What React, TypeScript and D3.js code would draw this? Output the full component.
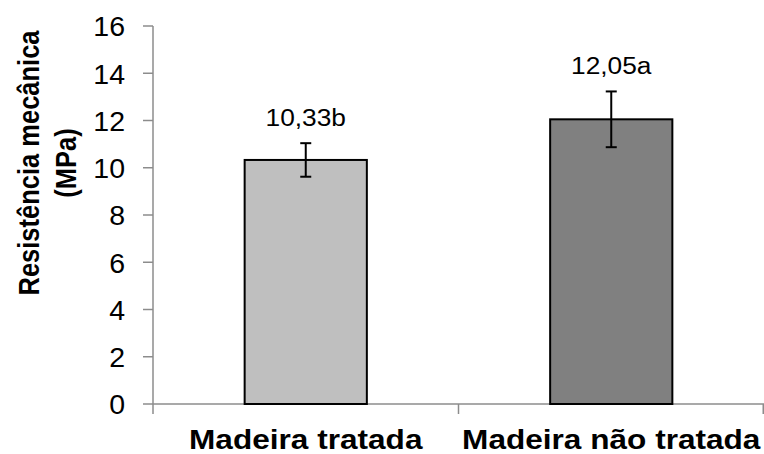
import React, { useEffect, useRef } from "react";
import * as d3 from "d3";

const categories = ["Madeira tratada", "Madeira não tratada"];
const means = [10.33, 12.05];
const errors = [0.71, 1.18];
const valueLabels = ["10,33b", "12,05a"];
const barColors = ["#BFBFBF", "#808080"];
const yTicks = [0, 2, 4, 6, 8, 10, 12, 14, 16];
const yTitleLines = ["Resistência mecânica", "(MPa)"];

const W = 764;
const H = 454;
const FONT = "Arial, 'Liberation Sans', sans-serif";

export default function App() {
  const ref = useRef<SVGSVGElement | null>(null);

  useEffect(() => {
    const svg = d3.select(ref.current);
    svg.selectAll("*").remove();

    const left = 153;
    const right = 764;
    const top = 26;
    const bottom = 404;

    const x = d3
      .scaleBand<string>()
      .domain(categories)
      .range([left, right])
      .paddingInner(0.6)
      .paddingOuter(0.3);
    const step = x.step();
    const y = d3.scaleLinear().domain([0, 16]).range([bottom, top]);

    const axisColor = "#8C8C8C";

    // y axis line and ticks
    svg
      .append("line")
      .attr("x1", left)
      .attr("x2", left)
      .attr("y1", y(16))
      .attr("y2", bottom)
      .attr("stroke", axisColor)
      .attr("stroke-width", 1.5);
    svg
      .selectAll(".ytick")
      .data(yTicks)
      .enter()
      .append("line")
      .attr("x1", left - 10)
      .attr("x2", left)
      .attr("y1", (d) => y(d))
      .attr("y2", (d) => y(d))
      .attr("stroke", axisColor)
      .attr("stroke-width", 1.5);
    svg
      .selectAll(".ylabel")
      .data(yTicks)
      .enter()
      .append("text")
      .attr("x", 125)
      .attr("y", (d) => y(d))
      .attr("dy", "0.36em")
      .attr("text-anchor", "end")
      .attr("font-family", FONT)
      .attr("font-size", 28.5)
      .attr("fill", "#000")
      .text((d) => String(d));

    // x axis line and category boundary ticks
    svg
      .append("line")
      .attr("x1", left)
      .attr("x2", right)
      .attr("y1", bottom)
      .attr("y2", bottom)
      .attr("stroke", axisColor)
      .attr("stroke-width", 1.5);
    const boundaries = [left, ...categories.map((c) => (x(c) as number) - step * 0.3 + step)];
    svg
      .selectAll(".xtick")
      .data(boundaries)
      .enter()
      .append("line")
      .attr("x1", (d) => Math.min(d, right - 0.75))
      .attr("x2", (d) => Math.min(d, right - 0.75))
      .attr("y1", bottom)
      .attr("y2", bottom + 10)
      .attr("stroke", axisColor)
      .attr("stroke-width", 1.5);

    // bars
    svg
      .selectAll(".bar")
      .data(categories)
      .enter()
      .append("rect")
      .attr("x", (d) => x(d) as number)
      .attr("y", (_, i) => y(means[i]))
      .attr("width", x.bandwidth())
      .attr("height", (_, i) => bottom - y(means[i]))
      .attr("fill", (_, i) => barColors[i])
      .attr("stroke", "#000")
      .attr("stroke-width", 2);

    // error bars, value labels and category labels
    const cap = 5.5;
    categories.forEach((c, i) => {
      const cx = (x(c) as number) + x.bandwidth() / 2;
      const hi = y(means[i] + errors[i]);
      const lo = y(means[i] - errors[i]);
      const g = svg.append("g").attr("stroke", "#000").attr("stroke-width", 2);
      g.append("line").attr("x1", cx).attr("x2", cx).attr("y1", hi).attr("y2", lo);
      g.append("line").attr("x1", cx - cap).attr("x2", cx + cap).attr("y1", hi).attr("y2", hi);
      g.append("line").attr("x1", cx - cap).attr("x2", cx + cap).attr("y1", lo).attr("y2", lo);

      svg
        .append("text")
        .attr("transform", `translate(${cx},${hi - 17}) scale(1.12,1)`)
        .attr("text-anchor", "middle")
        .attr("font-family", FONT)
        .attr("font-size", 23.5)
        .attr("fill", "#000")
        .text(valueLabels[i]);

      svg
        .append("text")
        .attr("transform", `translate(${cx},449) scale(1.17,1)`)
        .attr("text-anchor", "middle")
        .attr("font-family", FONT)
        .attr("font-size", 27)
        .attr("font-weight", "bold")
        .attr("fill", "#000")
        .text(c);
    });

    // y axis title (two lines, rotated)
    const title = svg
      .append("text")
      .attr("transform", "translate(39,163) rotate(-90) scale(1,1.15)")
      .attr("text-anchor", "middle")
      .attr("font-family", FONT)
      .attr("font-size", 25.5)
      .attr("font-weight", "bold")
      .attr("fill", "#000");
    yTitleLines.forEach((line, i) => {
      title
        .append("tspan")
        .attr("x", 0)
        .attr("y", i * 32)
        .text(line);
    });
  }, []);

  return (
    <svg
      ref={ref}
      width={W}
      height={H}
      style={{ position: "absolute", left: 0, top: 0, background: "#fff" }}
    />
  );
}
